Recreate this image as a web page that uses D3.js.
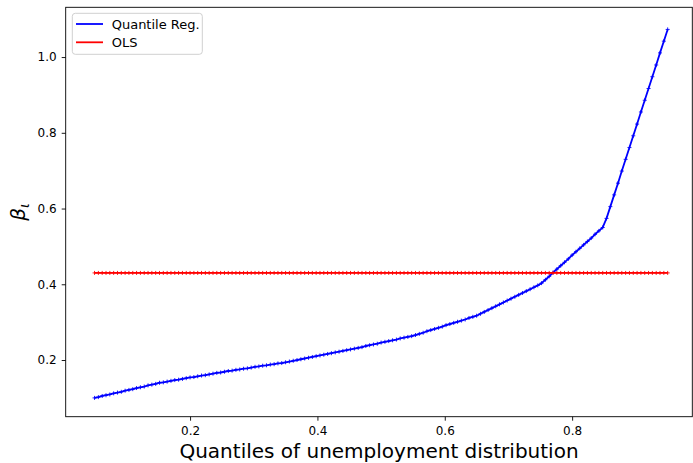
<!DOCTYPE html>
<html>
<head>
<meta charset="utf-8">
<script src="https://cdn.jsdelivr.net/npm/d3@7"></script>
<style>
  html, body { margin: 0; padding: 0; background: #fff; }
  svg { display: block; font-family: "DejaVu Sans", sans-serif; }
</style>
</head>
<body>
<svg id="chart" width="693" height="463"></svg>
<script>
// Quantile levels at which the coefficient was estimated
const quantiles = [
  0.050, 0.056, 0.062, 0.068, 0.074, 0.080, 0.086, 0.092, 0.098, 0.104,
  0.110, 0.116, 0.122, 0.128, 0.134, 0.140, 0.146, 0.152, 0.158, 0.164,
  0.170, 0.176, 0.182, 0.188, 0.194, 0.200, 0.206, 0.212, 0.218, 0.224,
  0.230, 0.236, 0.242, 0.248, 0.254, 0.260, 0.266, 0.272, 0.278, 0.284,
  0.290, 0.296, 0.302, 0.308, 0.314, 0.320, 0.326, 0.332, 0.338, 0.344,
  0.350, 0.356, 0.362, 0.368, 0.374, 0.380, 0.386, 0.392, 0.398, 0.404,
  0.410, 0.416, 0.422, 0.428, 0.434, 0.440, 0.446, 0.452, 0.458, 0.464,
  0.470, 0.476, 0.482, 0.488, 0.494, 0.500, 0.506, 0.512, 0.518, 0.524,
  0.530, 0.536, 0.542, 0.548, 0.554, 0.560, 0.566, 0.572, 0.578, 0.584,
  0.590, 0.596, 0.602, 0.608, 0.614, 0.620, 0.626, 0.632, 0.638, 0.644,
  0.650, 0.656, 0.662, 0.668, 0.674, 0.680, 0.686, 0.692, 0.698, 0.704,
  0.710, 0.716, 0.722, 0.728, 0.734, 0.740, 0.746, 0.752, 0.758, 0.764,
  0.770, 0.776, 0.782, 0.788, 0.794, 0.800, 0.806, 0.812, 0.818, 0.824,
  0.830, 0.836, 0.842, 0.848, 0.854, 0.860, 0.866, 0.872, 0.878, 0.884,
  0.890, 0.896, 0.902, 0.908, 0.914, 0.920, 0.926, 0.932, 0.938, 0.944,
  0.950
];

// Quantile regression coefficient at each quantile
const quantileBeta = [
  0.100, 0.102, 0.105, 0.107, 0.109, 0.112, 0.114, 0.116, 0.119, 0.121,
  0.123, 0.126, 0.128, 0.130, 0.133, 0.135, 0.137, 0.140, 0.141, 0.143,
  0.145, 0.147, 0.148, 0.150, 0.152, 0.154, 0.155, 0.157, 0.159, 0.160,
  0.162, 0.164, 0.166, 0.167, 0.169, 0.171, 0.172, 0.174, 0.175, 0.177,
  0.178, 0.180, 0.182, 0.183, 0.185, 0.186, 0.188, 0.189, 0.191, 0.192,
  0.194, 0.196, 0.198, 0.200, 0.202, 0.204, 0.206, 0.208, 0.210, 0.212,
  0.214, 0.216, 0.218, 0.220, 0.222, 0.224, 0.226, 0.228, 0.230, 0.232,
  0.234, 0.237, 0.239, 0.241, 0.243, 0.246, 0.248, 0.250, 0.252, 0.254,
  0.257, 0.259, 0.261, 0.263, 0.266, 0.269, 0.272, 0.276, 0.279, 0.282,
  0.285, 0.288, 0.292, 0.295, 0.298, 0.301, 0.304, 0.307, 0.311, 0.314,
  0.317, 0.322, 0.327, 0.332, 0.337, 0.342, 0.347, 0.352, 0.357, 0.362,
  0.367, 0.372, 0.377, 0.382, 0.387, 0.392, 0.397, 0.403, 0.412, 0.421,
  0.431, 0.440, 0.449, 0.458, 0.467, 0.477, 0.486, 0.495, 0.504, 0.513,
  0.522, 0.532, 0.541, 0.550, 0.574, 0.605, 0.636, 0.667, 0.699, 0.730,
  0.761, 0.792, 0.823, 0.855, 0.886, 0.917, 0.948, 0.979, 1.011, 1.042,
  1.073
];

// OLS coefficient (same at every quantile)
const olsBeta = 0.430;

const xTicks = [0.2, 0.4, 0.6, 0.8];
const yTicks = [0.2, 0.4, 0.6, 0.8, 1.0];

const seriesNames = ["Quantile Reg.", "OLS"];
const seriesColors = ["#0000ff", "#ff0000"];

const svg = d3.select("#chart");
const plotLeft = 65.7, plotRight = 692.3, plotTop = 7.3, plotBottom = 416.7;

const x = d3.scaleLinear().domain([0.0047, 0.9887]).range([plotLeft, plotRight]);
const y = d3.scaleLinear().domain([0.0503, 1.1314]).range([plotBottom, plotTop]);

// axes
const xAxis = d3.axisBottom(x).tickValues(xTicks).tickFormat(d3.format(".1f"))
  .tickSizeOuter(0).tickSize(4).tickPadding(5.5);
const yAxis = d3.axisLeft(y).tickValues(yTicks).tickFormat(d3.format(".1f"))
  .tickSizeOuter(0).tickSize(4).tickPadding(5);

const gx = svg.append("g").attr("transform", `translate(0,${plotBottom})`).call(xAxis);
const gy = svg.append("g").attr("transform", `translate(${plotLeft},0)`).call(yAxis);
[gx, gy].forEach(g => {
  g.select(".domain").remove();
  g.selectAll(".tick line").attr("stroke", "#000").attr("stroke-width", 0.9);
  g.selectAll(".tick text").attr("fill", "#000")
    .style("font-size", "12px").style("font-family", "DejaVu Sans, sans-serif");
});

// series
const qData = quantiles.map((q, i) => ({ q, v: quantileBeta[i] }));
const oData = quantiles.map(q => ({ q, v: olsBeta }));

const line = d3.line().x(d => x(d.q)).y(d => y(d.v));

function drawSeries(data, color) {
  const g = svg.append("g");
  g.append("path").datum(data).attr("d", line)
    .attr("fill", "none").attr("stroke", color).attr("stroke-width", 1.8)
    .attr("stroke-linejoin", "round");
  // plus markers
  const ms = 2;
  g.selectAll("path.m").data(data).enter().append("path")
    .attr("class", "m")
    .attr("d", d => {
      const cx = x(d.q), cy = y(d.v);
      return `M${cx - ms},${cy}H${cx + ms}M${cx},${cy - ms}V${cy + ms}`;
    })
    .attr("stroke", color).attr("stroke-width", 0.9).attr("fill", "none");
}
drawSeries(qData, seriesColors[0]);
drawSeries(oData, seriesColors[1]);

// frame
svg.append("rect").attr("x", plotLeft).attr("y", plotTop)
  .attr("width", plotRight - plotLeft).attr("height", plotBottom - plotTop)
  .attr("fill", "none").attr("stroke", "#000").attr("stroke-width", 0.9);

// legend
const lg = svg.append("g").attr("transform", "translate(72.3,13.3)");
lg.append("rect").attr("width", 130).attr("height", 41).attr("rx", 3)
  .attr("fill", "#fff").attr("fill-opacity", 0.8).attr("stroke", "#d0d0d0").attr("stroke-width", 1);
seriesNames.forEach((name, i) => {
  const yy = 10.7 + i * 18.3;
  lg.append("line").attr("x1", 3.7).attr("x2", 30.7).attr("y1", yy).attr("y2", yy)
    .attr("stroke", seriesColors[i]).attr("stroke-width", 1.8);
  lg.append("text").attr("x", 39.4).attr("y", yy + 4.7).text(name)
    .style("font-size", "13px").attr("fill", "#000");
});

// axis titles
svg.append("text").attr("x", (plotLeft + plotRight) / 2).attr("y", 457.7)
  .attr("text-anchor", "middle").style("font-size", "20px").attr("fill", "#000")
  .text("Quantiles of unemployment distribution");

const yl = svg.append("text").attr("transform", `translate(25,${(plotTop + plotBottom) / 2}) rotate(-90)`)
  .attr("text-anchor", "middle").attr("fill", "#000").style("font-size", "20px");
yl.append("tspan").style("font-style", "italic").text("β");
yl.append("tspan").style("font-style", "italic").style("font-size", "14px").attr("dy", 4).text("ι");
</script>
</body>
</html>
